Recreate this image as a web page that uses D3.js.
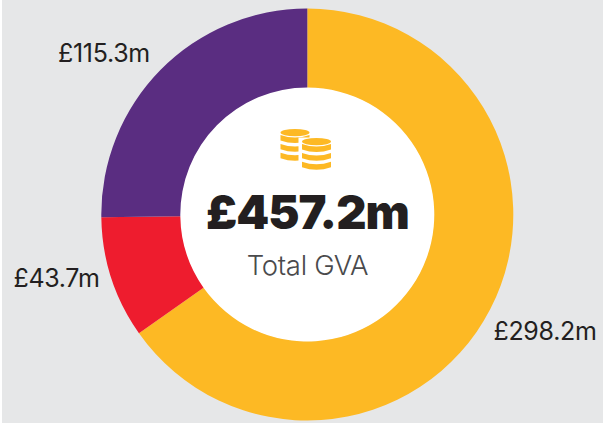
<!DOCTYPE html>
<html><head><meta charset="utf-8">
<script src="https://cdn.jsdelivr.net/npm/d3@7/dist/d3.min.js"></script>
<style>html,body{margin:0;padding:0;background:#fff}svg{display:block}</style>
</head><body><svg id="c" width="603" height="423"></svg>
<script>
const categories = ["Yellow segment", "Red segment", "Purple segment"];
const values = [298.2, 43.7, 115.3];
const valueLabels = ["£298.2m", "£43.7m", "£115.3m"];
const colors = ["#fdb924", "#ee1c2e", "#5a2d81"];
const totalLabel = "£457.2m";
const subtitle = "Total GVA";

const svg = d3.select("#c");
svg.append("rect").attr("x",2).attr("width",601).attr("height",423).attr("fill","#e6e7e8");
const cx = 307.3, cy = 214.5;
const g = svg.append("g").attr("transform",`translate(${cx},${cy})`);
const pie = d3.pie().sort(null)(values);
const arc = d3.arc().innerRadius(127).outerRadius(206);
g.append("circle").attr("r",127.5).attr("fill","#fff");
g.selectAll("path.s").data(pie).join("path").attr("class","s").attr("d",arc).attr("fill",(d,i)=>colors[i]);

const labelPos = [[545,332],[56.5,279],[104,54]];
svg.selectAll("text.l").data(valueLabels).join("text").attr("class","l")
 .attr("x",(d,i)=>labelPos[i][0]).attr("y",(d,i)=>labelPos[i][1]+8)
 .attr("text-anchor","middle").attr("font-family","Inter, Roboto, sans-serif")
 .attr("font-size",25).attr("letter-spacing",-0.3).attr("fill","#231f20").text(d=>d);

svg.append("text").attr("x",307.5).attr("y",229).attr("text-anchor","middle")
 .attr("font-family","Inter, Roboto, sans-serif").attr("font-weight",900)
 .attr("font-size",47).attr("letter-spacing",-1).attr("fill","#231f20").text(totalLabel);
svg.append("text").attr("x",307.5).attr("y",275).attr("text-anchor","middle")
 .attr("font-family","Inter, Roboto, sans-serif").attr("font-weight",300)
 .attr("font-size",27.5).attr("letter-spacing",-0.3).attr("fill","#4a4a4c").text(subtitle);

// coin icon
const icon = svg.append("g").attr("fill","#fdb924");
function stack(x, top, w){
  const rx=w/2, ry=3.6, edge=5.4, pitch=8.9, sag=5;
  icon.append("ellipse").attr("cx",x).attr("cy",top+ry).attr("rx",rx).attr("ry",ry);
  for(let i=0;i<3;i++){
    const y=top+ry+2.4+i*pitch;
    const k=y+edge;
    icon.append("path").attr("d",`M${x-rx},${y} Q${x},${y+sag} ${x+rx},${y} V${k} Q${x},${k+sag} ${x-rx},${k} Z`);
  }
}
stack(295,129,29);
icon.append("rect").attr("x",298.5).attr("y",137.5).attr("width",14).attr("height",28).attr("fill","#fff");
stack(316.5,138,29);
</script></body></html>
